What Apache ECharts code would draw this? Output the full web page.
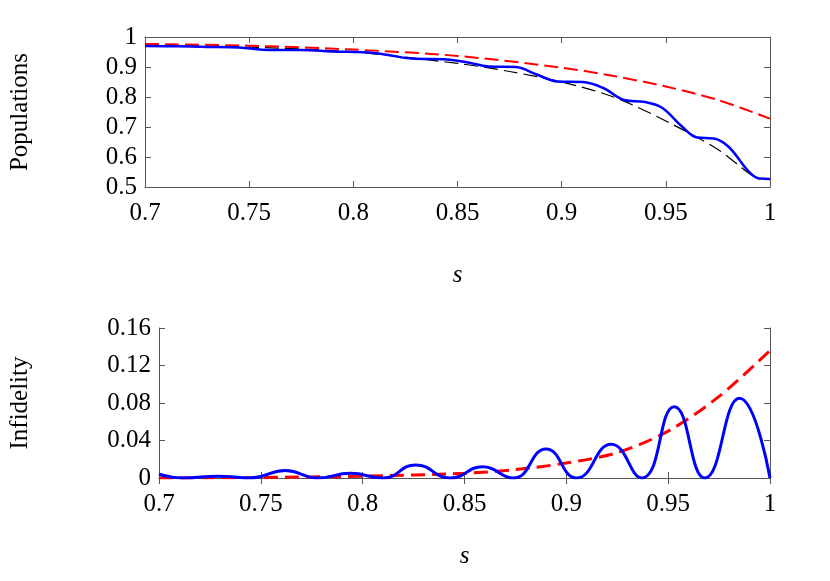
<!DOCTYPE html>
<html><head><meta charset="utf-8">
<script src="https://cdn.jsdelivr.net/npm/echarts@6/dist/echarts.min.js"></script>
<style>html,body{margin:0;background:#fff}#c{width:830px;height:581px}</style>
</head><body><div id="c"></div>
<script>
const xTicks=[0.7,0.75,0.8,0.85,0.9,0.95,1];
const popBlue=[[0.7,0.97],[0.715,0.969],[0.73,0.967],[0.745,0.965],[0.76,0.957],[0.775,0.957],[0.79,0.952],[0.805,0.949],[0.815,0.942],[0.828,0.928],[0.845,0.925],[0.855,0.915],[0.865,0.902],[0.878,0.9],[0.888,0.875],[0.898,0.852],[0.91,0.85],[0.92,0.83],[0.93,0.79],[0.94,0.783],[0.948,0.765],[0.958,0.7],[0.965,0.665],[0.973,0.662],[0.98,0.635],[0.99,0.55],[0.995,0.528],[1,0.527]];
const popBlack=[[0.7,0.972],[0.75,0.966],[0.8,0.95],[0.85,0.912],[0.875,0.885],[0.9,0.85],[0.925,0.8],[0.95,0.72],[0.975,0.625],[0.99,0.545],[0.995,0.525]];
const popRed=[[0.7,0.977],[0.75,0.971],[0.8,0.958],[0.85,0.937],[0.9,0.898],[0.925,0.87],[0.95,0.835],[0.975,0.79],[1,0.728]];
const infBlue=[[0.7,0.004],[0.712,0],[0.729,0.002],[0.745,0],[0.762,0.008],[0.778,0],[0.794,0.005],[0.81,0],[0.826,0.014],[0.843,0],[0.859,0.012],[0.874,0],[0.89,0.031],[0.905,0],[0.922,0.036],[0.937,0],[0.953,0.076],[0.968,0],[0.985,0.085],[1,0]];
const infRed=[[0.7,0],[0.75,0.0005],[0.8,0.002],[0.85,0.005],[0.875,0.009],[0.9,0.016],[0.925,0.027],[0.95,0.05],[0.975,0.087],[1,0.136]];
const F='Liberation Serif';
function xa(grid,show){return {type:'value',gridIndex:grid,min:0.7,max:1,interval:0.05,position:show?'bottom':'top',
 axisLine:{show:true,lineStyle:{color:'#555'}},axisTick:{inside:true,length:6,lineStyle:{color:'#555'}},
 splitLine:{show:false},axisLabel:{show:show,color:'#000',fontFamily:F,fontSize:25,margin:14,formatter:v=>String(+v.toFixed(2))},
 name:show?'s':'',nameLocation:'middle',nameGap:grid?66:76,nameTextStyle:{fontFamily:F,fontStyle:'italic',fontSize:25,color:'#000'}};}
function ya(grid,min,max,iv,show,name){return {type:'value',gridIndex:grid,min:min,max:max,interval:iv,position:show?'left':'right',
 axisLine:{show:true,lineStyle:{color:'#555'}},axisTick:{inside:true,length:6,lineStyle:{color:'#555'}},
 splitLine:{show:false},axisLabel:{show:show,color:'#000',fontFamily:F,fontSize:25,margin:8,formatter:v=>String(+v.toFixed(2))},
 name:show?name:'',nameLocation:'middle',nameGap:show?(grid?126:112):0,nameTextStyle:{fontFamily:F,fontSize:25,color:'#000'}};}
const chart=echarts.init(document.getElementById('c'));
chart.setOption({animation:false,
 grid:[{left:138,top:37,width:632,height:150},{left:153,top:328,width:617,height:150}],
 xAxis:[xa(0,true),xa(0,false),xa(1,true),xa(1,false)],
 yAxis:[ya(0,0.5,1,0.1,true,'Populations'),ya(0,0.5,1,0.1,false),ya(1,0,0.16,0.04,true,'Infidelity'),ya(1,0,0.16,0.04,false)],
 series:[
  {type:'line',xAxisIndex:0,yAxisIndex:0,data:popBlack,smooth:0.3,showSymbol:false,lineStyle:{color:'#000',width:1.2,type:[14,6]}},
  {type:'line',xAxisIndex:0,yAxisIndex:0,data:popRed,smooth:0.3,showSymbol:false,lineStyle:{color:'#f00',width:2,type:[14,6]}},
  {type:'line',xAxisIndex:0,yAxisIndex:0,data:popBlue,smooth:0.4,showSymbol:false,lineStyle:{color:'#00f',width:2.5}},
  {type:'line',xAxisIndex:2,yAxisIndex:2,data:infRed,smooth:0.3,showSymbol:false,lineStyle:{color:'#f00',width:3,type:[14,7]}},
  {type:'line',xAxisIndex:2,yAxisIndex:2,data:infBlue,smooth:0.5,showSymbol:false,lineStyle:{color:'#00f',width:3}}
 ]});
</script></body></html>
